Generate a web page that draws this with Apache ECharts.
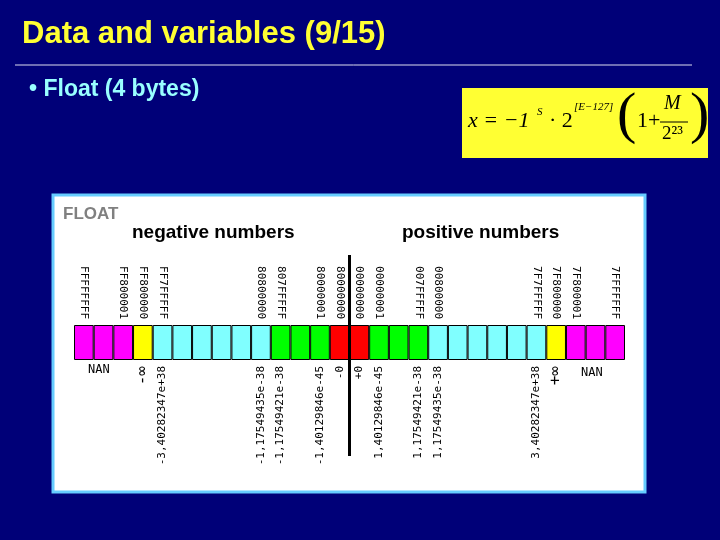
<!DOCTYPE html>
<html>
<head>
<meta charset="utf-8">
<script src="https://cdn.jsdelivr.net/npm/echarts@6/dist/echarts.min.js"></script>
<style>html,body{margin:0;padding:0;background:#000078}</style>
</head>
<body>
<div id="main" style="width:720px;height:540px"></div>
<script>
// 28 cells of the float strip, negative side then positive side
var cellColors = [
  '#ff00ff','#ff00ff','#ff00ff','#ffff00',
  '#80ffff','#80ffff','#80ffff','#80ffff','#80ffff','#80ffff',
  '#00ff00','#00ff00','#00ff00','#ff0000',
  '#ff0000','#00ff00','#00ff00','#00ff00',
  '#80ffff','#80ffff','#80ffff','#80ffff','#80ffff','#80ffff',
  '#ffff00','#ff00ff','#ff00ff','#ff00ff'
]
var hexLabels = [
  'FFFFFFFF','','FF800001','FF800000','FF7FFFFF','','','','','80800000',
  '807FFFFF','','80000001','80000000','00000000','00000001','','007FFFFF',
  '00800000','','','','','7F7FFFFF','7F800000','7F800001','','7FFFFFFF'
]
var valueLabels = [
  '','','','-\u221e','-3,40282347e+38','','','','','-1,17549435e-38',
  '-1,17549421e-38','','-1,40129846e-45','-0','+0','1,40129846e-45','','1,17549421e-38',
  '1,17549435e-38','','','','','3,40282347e+38','+\u221e','','',''
]
var cellValues = cellColors.map(function () { return 1 })

var myChart = echarts.init(document.getElementById('main'))
var mono = 'DejaVu Sans Mono'
var cats = cellColors.map(function (c, i) { return 'c' + i })

myChart.setOption({
  backgroundColor: '#000078',
  animation: false,
  grid: { left: 74, right: 95, top: 325, height: 35 },
  xAxis: [{
    type: 'category', data: cats, position: 'bottom',
    axisLine: { show: false }, axisTick: { show: false },
    axisLabel: {
      interval: 0, rotate: 90, color: '#000', fontFamily: mono, fontSize: 11, margin: 6,
      formatter: function (v, i) {
        var s = valueLabels[i]
        return s.indexOf('\u221e') >= 0 ? '{inf|' + s + '}' : s
      },
      rich: { inf: { fontSize: 16, fontFamily: mono, color: '#000' } }
    }
  }, {
    type: 'category', data: cats, position: 'top',
    axisLine: { show: false }, axisTick: { show: false },
    axisLabel: {
      interval: 0, rotate: 90, color: '#000', fontFamily: mono, fontSize: 11, margin: 6,
      formatter: function (v, i) { return hexLabels[i] }
    }
  }],
  yAxis: { type: 'value', min: 0, max: 1, show: false },
  series: [{
    type: 'bar', barWidth: '100%', data: cellValues.map(function (v, i) {
      return { value: v, itemStyle: { color: cellColors[i], borderColor: '#000', borderWidth: 1 } }
    })
  }],
  graphic: [
    { type: 'text', left: 22, top: 19, z: 10, style: { text: 'Data and variables (9/15)', fill: '#ffff33', font: 'bold 31px Liberation Sans' } },
    { type: 'line', z: 10, shape: { x1: 15, y1: 65, x2: 692, y2: 65 }, style: { stroke: '#ddddee', lineWidth: 1 } },
    { type: 'text', left: 29, top: 78, z: 10, style: { text: '\u2022 Float (4 bytes)', fill: '#99ffff', font: 'bold 23px Liberation Sans' } },
    { type: 'rect', z: -1, shape: { x: 462, y: 88, width: 246, height: 70 }, style: { fill: '#ffff33' } },
    { type: 'text', left: 468, top: 110, z: 10, style: { text: 'x = \u22121', fill: '#000', font: 'italic 22px Liberation Serif' } },
    { type: 'text', left: 537, top: 107, z: 10, style: { text: 'S', fill: '#000', font: 'italic 11px Liberation Serif' } },
    { type: 'text', left: 549, top: 110, z: 10, style: { text: '\u00b7 2', fill: '#000', font: '22px Liberation Serif' } },
    { type: 'text', left: 574, top: 102, z: 10, style: { text: '[E\u2212127]', fill: '#000', font: 'italic 11px Liberation Serif' } },
    { type: 'text', left: 617, top: 88, z: 10, style: { text: '(', fill: '#000', font: '58px Liberation Serif' } },
    { type: 'text', left: 637, top: 110, z: 10, style: { text: '1+', fill: '#000', font: '22px Liberation Serif' } },
    { type: 'text', left: 664, top: 94, z: 10, style: { text: 'M', fill: '#000', font: 'italic 20px Liberation Serif' } },
    { type: 'line', z: 10, shape: { x1: 660, y1: 122, x2: 688, y2: 122 }, style: { stroke: '#000', lineWidth: 1 } },
    { type: 'text', left: 662, top: 125, z: 10, style: { text: '2\u00b2\u00b3', fill: '#000', font: '19px Liberation Serif' } },
    { type: 'text', left: 690, top: 88, z: 10, style: { text: ')', fill: '#000', font: '58px Liberation Serif' } },
    { type: 'rect', z: -1, shape: { x: 53, y: 195, width: 592, height: 297 }, style: { fill: '#fff', stroke: '#66ccff', lineWidth: 3 } },
    { type: 'text', left: 63, top: 206, z: 10, style: { text: 'FLOAT', fill: '#808080', font: 'bold 17px Liberation Sans' } },
    { type: 'text', left: 132, top: 223, z: 10, style: { text: 'negative numbers', fill: '#000', font: 'bold 19px Liberation Sans' } },
    { type: 'text', left: 402, top: 223, z: 10, style: { text: 'positive numbers', fill: '#000', font: 'bold 19px Liberation Sans' } },
    { type: 'text', left: 88, top: 364, z: 10, style: { text: 'NAN', fill: '#000', font: '12px DejaVu Sans Mono' } },
    { type: 'text', left: 581, top: 367, z: 10, style: { text: 'NAN', fill: '#000', font: '12px DejaVu Sans Mono' } }
  ]
})

// zero divider line between -0 and +0 cells
var p1 = myChart.convertToPixel({ xAxisIndex: 0 }, 'c13')
var p2 = myChart.convertToPixel({ xAxisIndex: 0 }, 'c14')
var xm = (p1 + p2) / 2
myChart.setOption({
  graphic: [{ id: 'zero', type: 'line', z: 20, shape: { x1: xm, y1: 255, x2: xm, y2: 456 }, style: { stroke: '#000', lineWidth: 3 } }]
})
</script>
</body>
</html>
